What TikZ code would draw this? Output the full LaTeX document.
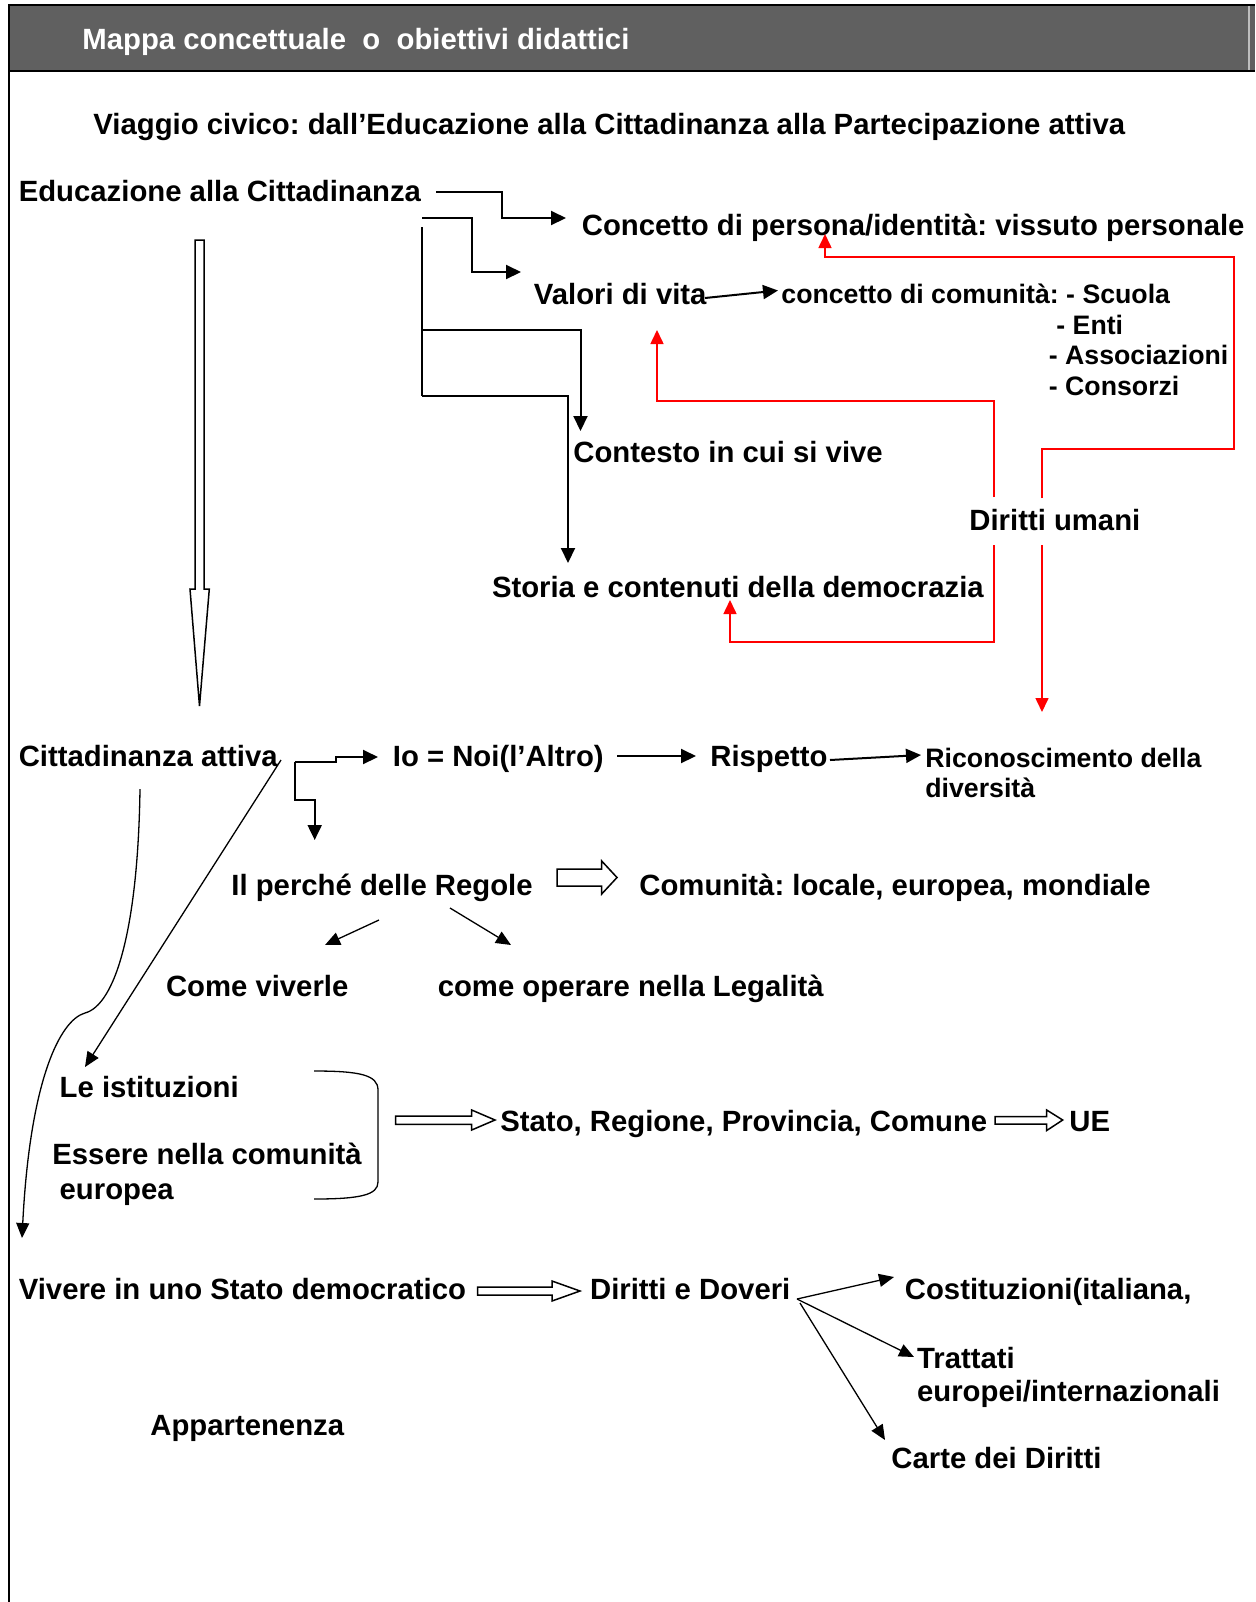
\documentclass[tikz,border=0pt]{standalone}
\usepackage{fontspec}
\setmainfont{Liberation Sans}
\usetikzlibrary{arrows.meta,calc}
\definecolor{bandgray}{RGB}{96,96,96}
\definecolor{bandedge}{RGB}{190,190,190}
\frenchspacing
\begin{document}
\begin{tikzpicture}[x=0.5pt,y=-0.5pt,
  lbl/.style={inner sep=0pt, anchor=base west, font=\bfseries\fontsize{14.65pt}{17pt}\selectfont},
  small/.style={lbl, font=\bfseries\fontsize{13.35pt}{16pt}\selectfont},
  link/.style={line width=1pt, -{Triangle[length=7.5pt,width=7pt]}},
  plain/.style={line width=1pt},
  redlink/.style={draw=red, line width=0.8pt, -{Triangle[length=7pt,width=6.5pt]}},
  thinlink/.style={line width=0.65pt, -{Triangle[length=7.5pt,width=6.5pt]}},
  hollow/.style={draw=black, fill=white, line width=0.75pt, line join=miter},
]
\useasboundingbox (0,0) rectangle (1255,1602);

% header band and frame
\fill[bandgray] (9,5) rectangle (1255,71);
\draw[bandedge, line width=1pt] (1249,6) -- (1249,70);
\draw[line width=1pt] (8,5) -- (1255,5);
\draw[line width=1.3pt] (8,71) -- (1255,71);
\draw[line width=1pt] (9,4) -- (9,1602);

% texts
\node[lbl, text=white] (hdr) at (82,49.5) {Mappa concettuale\ \ o\ \ obiettivi didattici};
\node[lbl] (title) at (93,134) {Viaggio civico: dall’Educazione alla Cittadinanza alla Partecipazione attiva};
\node[lbl] (educ) at (18.4,201.5) {Educazione alla Cittadinanza};
\node[lbl] (pers) at (581.5,235.5) {Concetto di persona/identità: vissuto personale};
\node[lbl] (valori) at (533.5,304) {Valori di vita};
\node[small] (comun) at (781,303) {concetto di comunità: - Scuola};
\node[small] (enti) at (1056,334.5) {- Enti};
\node[small] (assoc) at (1048.5,364) {- Associazioni};
\node[small] (cons) at (1048.5,395.5) {- Consorzi};
\node[lbl] (contesto) at (573,462) {Contesto in cui si vive};
\node[lbl] (diritti) at (969,530.5) {Diritti umani};
\node[lbl] (storia) at (491.6,597) {Storia e contenuti della democrazia};
\node[lbl] (attiva) at (18.4,766.5) {Cittadinanza attiva};
\node[lbl] (ionoi) at (392.5,766.5) {Io = Noi(l’Altro)};
\node[lbl] (rispetto) at (710,766.5) {Rispetto};
\node[small] (ricon) at (925,767) {Riconoscimento della};
\node[small] (divers) at (925,797) {diversità};
\node[lbl] (regole) at (231,895.5) {Il perché delle Regole};
\node[lbl] (comloc) at (639,895.5) {Comunità: locale, europea, mondiale};
\node[lbl] (viverle) at (165.6,996.7) {Come viverle};
\node[lbl] (legal) at (437.4,996.7) {come operare nella Legalità};
\node[lbl] (istit) at (59.3,1097) {Le istituzioni};
\node[lbl] (essere) at (52,1164.5) {Essere nella comunità};
\node[lbl] (europea) at (59.3,1199) {europea};
\node[lbl] (stato) at (500,1131.5) {Stato, Regione, Provincia, Comune};
\node[lbl] (ue) at (1069,1131.5) {UE};
\node[lbl] (vivere) at (18.4,1299.5) {Vivere in uno Stato democratico};
\node[lbl] (dirdov) at (589.7,1299.5) {Diritti e Doveri};
\node[lbl] (costit) at (904.5,1299.5) {Costituzioni(italiana,};
\node[lbl] (trattati) at (916.7,1368) {Trattati};
\node[lbl] (trattati2) at (916.7,1401.5) {europei/internazionali};
\node[lbl] (appart) at (150,1435) {Appartenenza};
\node[lbl] (carte) at (891,1468) {Carte dei Diritti};

% big hollow arrow from Educazione down to Cittadinanza attiva
\draw[hollow] (195,240) -- (204,240) -- (204,589) -- (209.3,589) -- (199.5,706)
  -- (190,589) -- (195,589) -- cycle;

% branches from Educazione alla Cittadinanza
\coordinate (e1) at (436,192);
\coordinate (e2) at (422,218);
\coordinate (e3) at (422,227);
\coordinate (e4) at (422,330);
\coordinate (e5) at (422,395.5);
\coordinate (pin) at (566,218);
\coordinate (vin) at (521,272);
\coordinate (cin) at (580.5,431);
\coordinate (sin) at (568,563);
\draw[link] (e1) -- (502,192) |- (pin);
\draw[link] (e2) -- (472,218) |- (vin);
\draw[plain] (e3) -- (e5);
\draw[link] (e4) -| (cin);
\draw[link] (e5) -| (sin);

% Valori di vita -> concetto di comunita
\draw[link] (705,298) -- (778,290.5);

% red links from Diritti umani
\draw[redlink] (1042,498) -- (1042,449) -- (1234,449) -- (1234,257) -- (825,257) -- (825,234);
\draw[redlink] (994,497) -- (994,401) -- (657,401) -- (657,330);
\draw[redlink] (994,545) -- (994,642) -- (730,642) -- (730,600);
\draw[redlink] (1042,545) -- (1042,712);

% Cittadinanza attiva
\coordinate (c0) at (294.6,762);
\draw[link] (c0) -- (335.7,762) -- (335.7,757) -- (378,757);
\draw[link] (c0) -- (294.6,800) -- (314.7,800) -- (314.7,840);
\draw[link] (617,756) -- (696,756);
\draw[link] (830,760) -- (921,755);

% Il perche delle Regole
\draw[hollow] (557,869) -- (601.7,869) -- (601.7,861) -- (617,877.5) -- (601.7,894)
  -- (601.7,886) -- (557,886) -- cycle;
\draw[thinlink] (379,920) -- (325,945);
\draw[thinlink] (450,908) -- (511,945);

% long diagonal and curved connectors
\draw[thinlink] (281,760) -- (85,1067);
\draw[thinlink] (140,789) .. controls (138,930) and (115,1005) .. (85,1013)
  .. controls (60,1020) and (30,1080) .. (22,1238);

% bracket around Le istituzioni / Essere nella comunita europea
\draw[line width=0.65pt] (314,1071) .. controls (360,1071) and (378,1075) .. (378,1090)
  -- (378,1182) .. controls (378,1195) and (360,1199) .. (314,1199);

% hollow arrows to Stato... and UE
\draw[hollow] (395.7,1116) -- (471.7,1116) -- (471.7,1110) -- (495,1120) -- (471.7,1130)
  -- (471.7,1124.3) -- (395.7,1124.3) -- cycle;
\draw[hollow] (995,1116.5) -- (1046.7,1116.5) -- (1046.7,1110) -- (1062.7,1120) -- (1046.7,1130.5)
  -- (1046.7,1124) -- (995,1124) -- cycle;

% Vivere in uno Stato democratico -> Diritti e Doveri
\draw[hollow] (477.6,1287) -- (552,1287) -- (552,1281) -- (580,1291) -- (552,1301)
  -- (552,1295) -- (477.6,1295) -- cycle;

% Diritti e Doveri branches
\coordinate (d0) at (797,1299);
\draw[thinlink] (d0) -- (894,1277);
\draw[thinlink] (d0) -- (914,1357);
\draw[thinlink] (800,1303) -- (885,1440);
\end{tikzpicture}
\end{document}
